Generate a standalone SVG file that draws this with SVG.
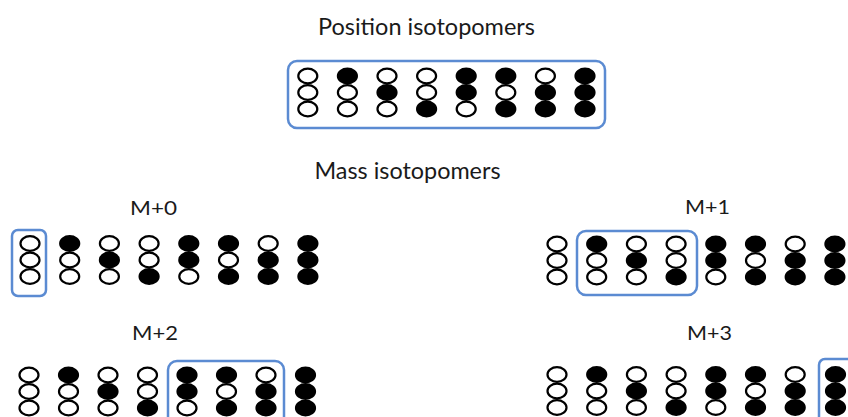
<svg xmlns="http://www.w3.org/2000/svg" xmlns:xlink="http://www.w3.org/1999/xlink" width="848" height="417" viewBox="0 0 848 417">
<style>
  .t { font-family: Lato, "Open Sans", "Liberation Sans", sans-serif; fill: #1a1a1a; text-anchor: middle; }
  .title { font-size: 23px; }
  .lab { font-size: 19px; }
  .o { fill: #ffffff; stroke: #000000; stroke-width: 2.2; }
  .f { fill: #000000; stroke: #000000; stroke-width: 2.2; }
  .box { fill: none; stroke: #5b8bd2; stroke-width: 2.5; }
</style>
<defs>
  <g id="c000"><ellipse class="o" cx="0" cy="-16.5" rx="9.5" ry="7.3"/><ellipse class="o" cx="0" cy="0" rx="9.5" ry="7.3"/><ellipse class="o" cx="0" cy="16.5" rx="9.5" ry="7.3"/></g>
  <g id="c100"><ellipse class="o" cx="0" cy="0" rx="9.5" ry="7.3"/><ellipse class="o" cx="0" cy="16.5" rx="9.5" ry="7.3"/><ellipse class="f" cx="0" cy="-16.5" rx="9.5" ry="7.3"/></g>
  <g id="c010"><ellipse class="o" cx="0" cy="-16.5" rx="9.5" ry="7.3"/><ellipse class="o" cx="0" cy="16.5" rx="9.5" ry="7.3"/><ellipse class="f" cx="0" cy="0" rx="9.5" ry="7.3"/></g>
  <g id="c001"><ellipse class="o" cx="0" cy="-16.5" rx="9.5" ry="7.3"/><ellipse class="o" cx="0" cy="0" rx="9.5" ry="7.3"/><ellipse class="f" cx="0" cy="16.5" rx="9.5" ry="7.3"/></g>
  <g id="c110"><ellipse class="o" cx="0" cy="16.5" rx="9.5" ry="7.3"/><ellipse class="f" cx="0" cy="-16.5" rx="9.5" ry="7.3"/><ellipse class="f" cx="0" cy="0" rx="9.5" ry="7.3"/></g>
  <g id="c101"><ellipse class="o" cx="0" cy="0" rx="9.5" ry="7.3"/><ellipse class="f" cx="0" cy="-16.5" rx="9.5" ry="7.3"/><ellipse class="f" cx="0" cy="16.5" rx="9.5" ry="7.3"/></g>
  <g id="c011"><ellipse class="o" cx="0" cy="-16.5" rx="9.5" ry="7.3"/><ellipse class="f" cx="0" cy="0" rx="9.5" ry="7.3"/><ellipse class="f" cx="0" cy="16.5" rx="9.5" ry="7.3"/></g>
  <g id="c111"><ellipse class="f" cx="0" cy="-16.5" rx="9.5" ry="7.3"/><ellipse class="f" cx="0" cy="0" rx="9.5" ry="7.3"/><ellipse class="f" cx="0" cy="16.5" rx="9.5" ry="7.3"/></g>
</defs>

<g id="titles">
  <text class="t title" x="426.5" y="35" textLength="217" lengthAdjust="spacingAndGlyphs">Position isotopomers</text>
  <text class="t title" x="407.5" y="179" textLength="186" lengthAdjust="spacingAndGlyphs">Mass isotopomers</text>
</g>

<g id="position">
  <rect class="box" x="288" y="61" width="317" height="67" rx="9"/>
  <use xlink:href="#c000" x="307.8" y="92.5"/>
  <use xlink:href="#c100" x="347.4" y="92.5"/>
  <use xlink:href="#c010" x="387" y="92.5"/>
  <use xlink:href="#c001" x="426.6" y="92.5"/>
  <use xlink:href="#c110" x="466.2" y="92.5"/>
  <use xlink:href="#c101" x="505.8" y="92.5"/>
  <use xlink:href="#c011" x="545.4" y="92.5"/>
  <use xlink:href="#c111" x="585" y="92.5"/>
</g>

<g id="m0">
  <text class="t lab" x="153.5" y="215" textLength="47" lengthAdjust="spacingAndGlyphs">M+0</text>
  <rect class="box" x="12" y="230" width="34" height="66" rx="6"/>
  <use xlink:href="#c000" x="30" y="260"/>
  <use xlink:href="#c100" x="69.7" y="260"/>
  <use xlink:href="#c010" x="109.4" y="260"/>
  <use xlink:href="#c001" x="149.1" y="260"/>
  <use xlink:href="#c110" x="188.8" y="260"/>
  <use xlink:href="#c101" x="228.5" y="260"/>
  <use xlink:href="#c011" x="268.2" y="260"/>
  <use xlink:href="#c111" x="307.9" y="260"/>
</g>

<g id="m1">
  <text class="t lab" x="707.5" y="214" textLength="45" lengthAdjust="spacingAndGlyphs">M+1</text>
  <rect class="box" x="577" y="231" width="120" height="64" rx="9"/>
  <use xlink:href="#c000" x="557" y="260.5"/>
  <use xlink:href="#c100" x="596.7" y="260.5"/>
  <use xlink:href="#c010" x="636.4" y="260.5"/>
  <use xlink:href="#c001" x="676.1" y="260.5"/>
  <use xlink:href="#c110" x="715.8" y="260.5"/>
  <use xlink:href="#c101" x="755.5" y="260.5"/>
  <use xlink:href="#c011" x="795.2" y="260.5"/>
  <use xlink:href="#c111" x="834.9" y="260.5"/>
</g>

<g id="m2">
  <text class="t lab" x="155" y="340" textLength="46" lengthAdjust="spacingAndGlyphs">M+2</text>
  <rect class="box" x="168" y="361" width="116" height="70" rx="9"/>
  <use xlink:href="#c000" x="29" y="391.5"/>
  <use xlink:href="#c100" x="68.5" y="391.5"/>
  <use xlink:href="#c010" x="108" y="391.5"/>
  <use xlink:href="#c001" x="147.5" y="391.5"/>
  <use xlink:href="#c110" x="187" y="391.5"/>
  <use xlink:href="#c101" x="226.5" y="391.5"/>
  <use xlink:href="#c011" x="266" y="391.5"/>
  <use xlink:href="#c111" x="305.5" y="391.5"/>
</g>

<g id="m3">
  <text class="t lab" x="709.5" y="340" textLength="45" lengthAdjust="spacingAndGlyphs">M+3</text>
  <rect class="box" x="819" y="359" width="40" height="70" rx="6"/>
  <use xlink:href="#c000" x="557" y="391"/>
  <use xlink:href="#c100" x="596.7" y="391"/>
  <use xlink:href="#c010" x="636.4" y="391"/>
  <use xlink:href="#c001" x="676.1" y="391"/>
  <use xlink:href="#c110" x="715.8" y="391"/>
  <use xlink:href="#c101" x="755.5" y="391"/>
  <use xlink:href="#c011" x="795.2" y="391"/>
  <use xlink:href="#c111" x="835.5" y="391"/>
</g>
</svg>
